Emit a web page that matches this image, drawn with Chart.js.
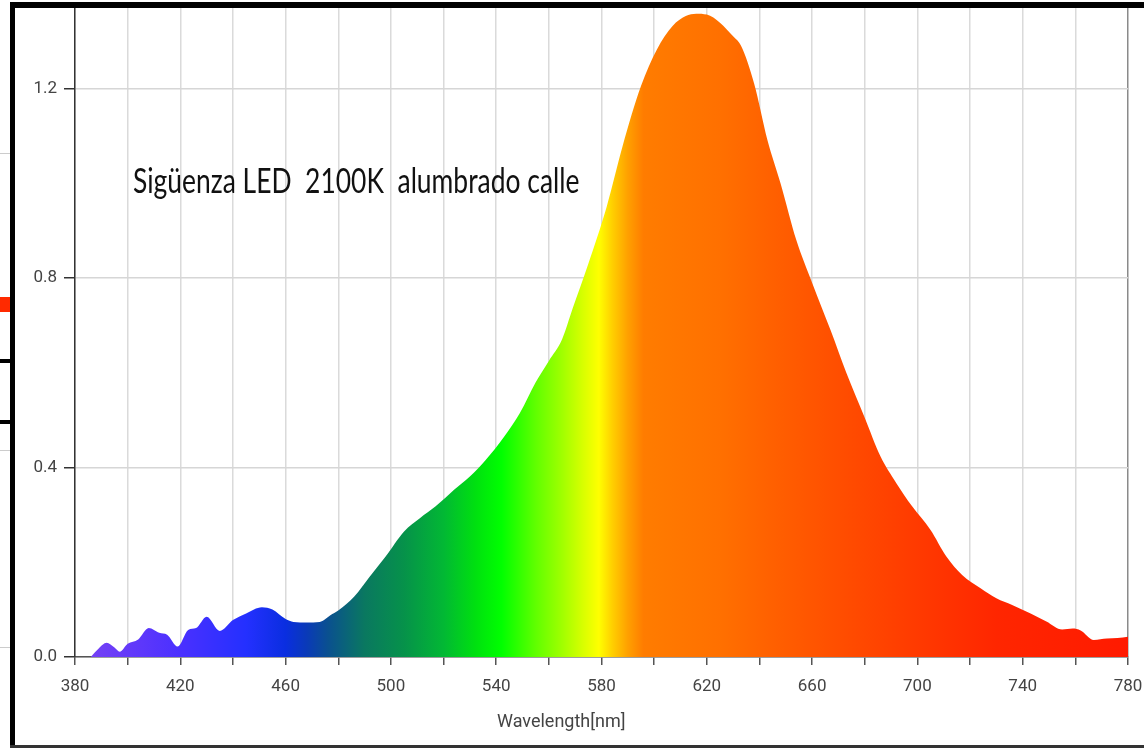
<!DOCTYPE html>
<html><head><meta charset="utf-8">
<script src="https://cdn.jsdelivr.net/npm/chart.js@4"></script>
<style>
html,body{margin:0;padding:0;background:#fff;}
#wrap{position:relative;width:1144px;height:748px;overflow:hidden;background:#fff;}
#c{position:absolute;left:0;top:0;}
#note{position:absolute;left:133px;top:167px;font-family:Lato,'Open Sans',sans-serif;font-size:30px;color:#111;white-space:pre;line-height:1;transform:scaleY(1.3);transform-origin:left center;}
#xlab{position:absolute;left:497px;top:710px;font-family:Roboto,'Liberation Sans',sans-serif;font-size:18px;color:#444;white-space:pre;}
.d{position:absolute;}
</style></head>
<body><div id="wrap">
<canvas id="c" width="1144" height="748"></canvas>
<div id="note">Sigüenza LED  2100K  alumbrado calle</div>
<div id="xlab">Wavelength[nm]</div>
<div class="d" style="left:0;top:153px;width:10px;height:1px;background:#ccc"></div>
<div class="d" style="left:0;top:297px;width:10px;height:15px;background:#ff2a00"></div>
<div class="d" style="left:0;top:359px;width:10px;height:4px;background:#000"></div>
<div class="d" style="left:0;top:420px;width:10px;height:4px;background:#000"></div>
<div class="d" style="left:0;top:450px;width:10px;height:1px;background:#ccc"></div>
<div class="d" style="left:0;top:647px;width:10px;height:1px;background:#ccc"></div>
<div class="d" style="left:10px;top:2px;width:1134px;height:6px;background:#000"></div>
<div class="d" style="left:10px;top:2px;width:5px;height:746px;background:#000"></div>
<div class="d" style="left:10px;top:745px;width:1134px;height:3px;background:#333"></div>
</div>
<script>
const wavelengths = [386,389,392,395,397,400,404,408,412,415,419,423,426,430,435,440,445,451,455,460,463,468,473,477,480,486,492,498,505,511,517,524,530,536,543,549,555,560,565,569,575,582,588,595,601,607,612,616,620,625,630,633,638,643,648,654,660,667,673,680,686,692,698,705,711,717,724,730,736,743,749,755,759,762,767,772,776,780];
const intensity = [0,0.018,0.030,0.020,0.011,0.028,0.037,0.061,0.051,0.047,0.022,0.057,0.061,0.085,0.055,0.078,0.092,0.105,0.100,0.080,0.074,0.073,0.074,0.088,0.098,0.127,0.170,0.212,0.265,0.293,0.318,0.353,0.381,0.416,0.465,0.515,0.580,0.625,0.670,0.735,0.830,0.951,1.078,1.205,1.282,1.332,1.353,1.358,1.356,1.339,1.310,1.290,1.210,1.092,1.000,0.880,0.790,0.690,0.600,0.505,0.423,0.367,0.318,0.268,0.212,0.173,0.145,0.124,0.110,0.092,0.075,0.058,0.060,0.056,0.036,0.039,0.040,0.043];
const xTicks = [380,420,460,500,540,580,620,660,700,740,780];
const yTicks = [0,0.4,0.8,1.2];

const spectrumStops = [[380,'#7a44f2'],[395,'#6a3cf8'],[420,'#4a30ff'],[445,'#2430ff'],[460,'#0a2ee0'],[468,'#0a3ab8'],[476,'#0a5090'],[490,'#0a7860'],[505,'#06924a'],[520,'#02b834'],[532,'#00e010'],[542,'#00ff00'],[555,'#60ff00'],[565,'#a0ff00'],[573,'#d8ff00'],[579,'#ffff00'],[584,'#ffd000'],[590,'#ffa000'],[596,'#ff7c00'],[625,'#ff7000'],[645,'#ff6000'],[670,'#ff4e00'],[700,'#ff3a00'],[730,'#ff2600'],[780,'#ff1a00']];

const note = document.getElementById('note');
note.style.fontSize = (30 * 447 / note.offsetWidth) + 'px';

const pts = wavelengths.map((w,i)=>({x:w,y:intensity[i]}));
new Chart(document.getElementById('c'), {
  type:'line',
  data:{datasets:[{
    data:pts,
    borderWidth:0,
    pointRadius:0,
    fill:'origin',
    cubicInterpolationMode:'monotone',
    backgroundColor:(ctx)=>{
      const ch = ctx.chart; const ca = ch.chartArea;
      if(!ca) return '#ff7000';
      const x0 = ch.scales.x.getPixelForValue(380), x1 = ch.scales.x.getPixelForValue(780);
      const g = ch.ctx.createLinearGradient(x0,0,x1,0);
      spectrumStops.forEach(([nm,c])=>g.addColorStop((nm-380)/400,c));
      return g;
    }
  }]},
  options:{
    responsive:false, animation:false,
    layout:{padding:{left:0,right:16,top:7,bottom:0}},
    plugins:{legend:{display:false},tooltip:{enabled:false}},
    scales:{
      x:{type:'linear',min:380,max:780,
        afterFit:(s)=>{s.height=91;s.paddingLeft=0;s.paddingRight=0;},
        border:{color:'#555',width:1.5},
        grid:{color:(c)=>c.tick && c.tick.value===780?'#8a8a8a':'#dadada',lineWidth:1.5,tickLength:8,tickColor:'#555'},
        ticks:{stepSize:20,autoSkip:false,maxRotation:0,padding:12,color:'#444',
          font:{family:'Roboto',size:17},
          callback:(v)=>xTicks.includes(v)?String(v):''}
      },
      y:{min:0,max:1.372,
        afterFit:(s)=>{s.width=75;s.paddingTop=0;s.paddingBottom=0;},
        afterBuildTicks:(s)=>{s.ticks=yTicks.map(v=>({value:v}));},
        border:{color:'#333',width:1.5},
        grid:{color:'#d6d6d6',lineWidth:1.5,tickLength:11,tickColor:'#333'},
        ticks:{padding:7,color:'#444',font:{family:'Roboto',size:17},callback:(v)=>v.toFixed(1)}
      }
    }
  }
});
</script>
</body></html>
